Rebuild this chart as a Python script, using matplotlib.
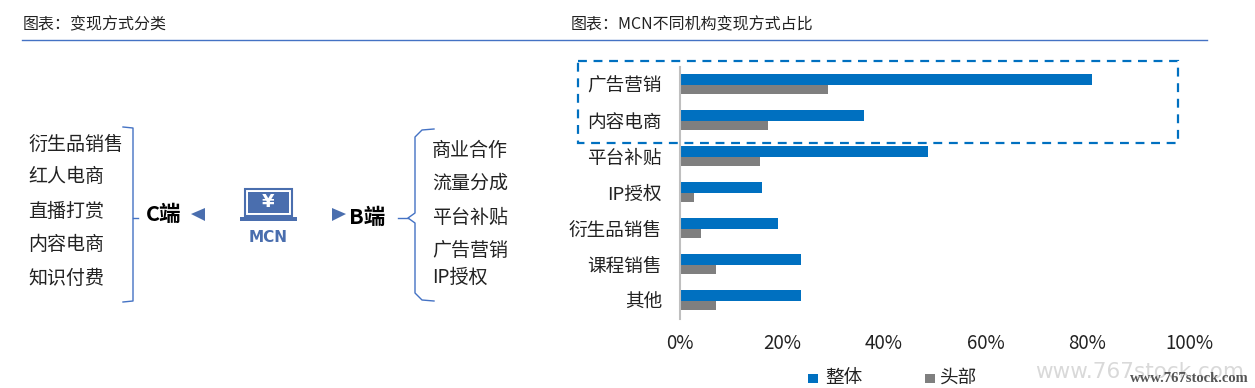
import matplotlib
matplotlib.use("Agg")
import matplotlib.pyplot as plt
from matplotlib.patches import Rectangle, Polygon

plt.rcParams["font.family"] = ["Noto Sans CJK SC", "DejaVu Sans"]

W, H = 1255, 388

categories = ["广告营销", "内容电商", "平台补贴", "IP授权", "衍生品销售", "课程销售", "其他"]
overall = [81, 36.2, 48.8, 16.1, 19.2, 23.8, 23.8]
top = [29, 17.3, 15.8, 2.8, 4.2, 7.1, 7.1]
xticks = [0, 20, 40, 60, 80, 100]

c_items = ["衍生品销售", "红人电商", "直播打赏", "内容电商", "知识付费"]
b_items = ["商业合作", "流量分成", "平台补贴", "广告营销", "IP授权"]
c_rows = [144, 177, 211, 244, 278]
b_rows = [150, 183, 217, 250, 277]

BLUE = "#0070C0"
GRAY = "#7F7F7F"
LINE = "#4472C4"
ICON = "#4A6EAE"
TEXT = "#222222"

fig = plt.figure(figsize=(W / 100, H / 100), dpi=100)

# bar chart
ax = fig.add_axes([680 / W, 1 - 319 / H, 509 / W, 252 / H])
ypos = list(range(len(categories)))
ax.barh([y - 0.15 for y in ypos], overall, height=0.3, color=BLUE, zorder=2)
ax.barh([y + 0.12 for y in ypos], top, height=0.24, color=GRAY, zorder=2)
ax.set_xlim(0, 100)
ax.set_ylim(len(categories) - 0.5, -0.5)
ax.set_xticks(xticks)
ax.set_xticklabels([f"{t}%" for t in xticks], fontsize=13.5, color=TEXT)
ax.set_yticks(ypos)
ax.set_yticklabels(categories, fontsize=13.4, color=TEXT)
ax.tick_params(axis="x", length=0, pad=10)
ax.tick_params(axis="y", length=0, pad=13)
for name in ["top", "right", "bottom"]:
    ax.spines[name].set_visible(False)
ax.spines["left"].set_color("#BFBFBF")
ax.spines["left"].set_linewidth(1.5)

# everything else is placed in pixels
ov = fig.add_axes([0, 0, 1, 1], zorder=5)
ov.set_xlim(0, W)
ov.set_ylim(H, 0)
ov.axis("off")
ov.patch.set_alpha(0)

ov.text(23, 25, "图表：变现方式分类", fontsize=11.5, color=TEXT, va="center")
ov.text(571, 25, "图表：MCN不同机构变现方式占比", fontsize=11.5, color=TEXT, va="center")
ov.plot([22, 1207], [40, 40], color=LINE, lw=1)

# dashed highlight box
ov.add_patch(Rectangle((578, 61), 600, 82, fill=False, ec=BLUE, lw=1.6, ls=(0, (4, 3))))

# legend
ov.add_patch(Rectangle((808, 374), 10, 9, color=BLUE, lw=0))
ov.text(825, 378, "整体", fontsize=13.4, color=TEXT, va="center")
ov.add_patch(Rectangle((925, 374), 10, 9, color=GRAY, lw=0))
ov.text(940, 378, "头部", fontsize=13.4, color=TEXT, va="center")

# left diagram
for label, y in zip(c_items, c_rows):
    ov.text(28, y, label, fontsize=13.7, color=TEXT, va="center")
for label, y in zip(b_items, b_rows):
    ov.text(432, y, label, fontsize=13.7, color=TEXT, va="center")

ov.plot([123, 133, 133, 123], [127, 128, 301, 302], color=LINE, lw=1)
ov.plot([133, 138], [218, 218], color=LINE, lw=1)
ov.plot([434, 422, 415, 415, 408, 415, 415, 422, 434],
        [129, 130, 137, 213, 218, 223, 293, 300, 301], color=LINE, lw=1)
ov.plot([398, 408], [218, 218], color=LINE, lw=1)

ov.text(146, 214, "C端", fontsize=15.5, fontweight="bold", color="black", va="center")
ov.text(349, 217, "B端", fontsize=15.5, fontweight="bold", color="black", va="center")
ov.add_patch(Polygon([[205, 208], [191, 214], [205, 221]], color=ICON, lw=0))
ov.add_patch(Polygon([[332, 208], [346, 214], [332, 221]], color=ICON, lw=0))

# laptop icon
ov.add_patch(Rectangle((245, 189), 47, 27, fill=False, ec=ICON, lw=1.5))
ov.add_patch(Rectangle((248, 192), 41, 21, color=ICON, lw=0))
ov.add_patch(Rectangle((240, 217), 57, 4, color=ICON, lw=0))
ov.text(268.5, 202, "¥", fontsize=13, fontweight="bold", color="white", ha="center", va="center",
        family="DejaVu Sans")
ov.text(268, 238, "MCN", fontsize=11, fontweight="bold", color=ICON, ha="center", va="center",
        family="DejaVu Sans")

# watermarks
ov.text(1035, 372, "www.767stock.com", fontsize=15.5, color="#D9D9D9", va="center", family="DejaVu Sans")
ov.text(1130, 378, "www.767stock.com", fontsize=10.5, color="#555555", va="center", fontweight="bold",
        family="Liberation Serif")

fig.savefig("out.png", dpi=100)
